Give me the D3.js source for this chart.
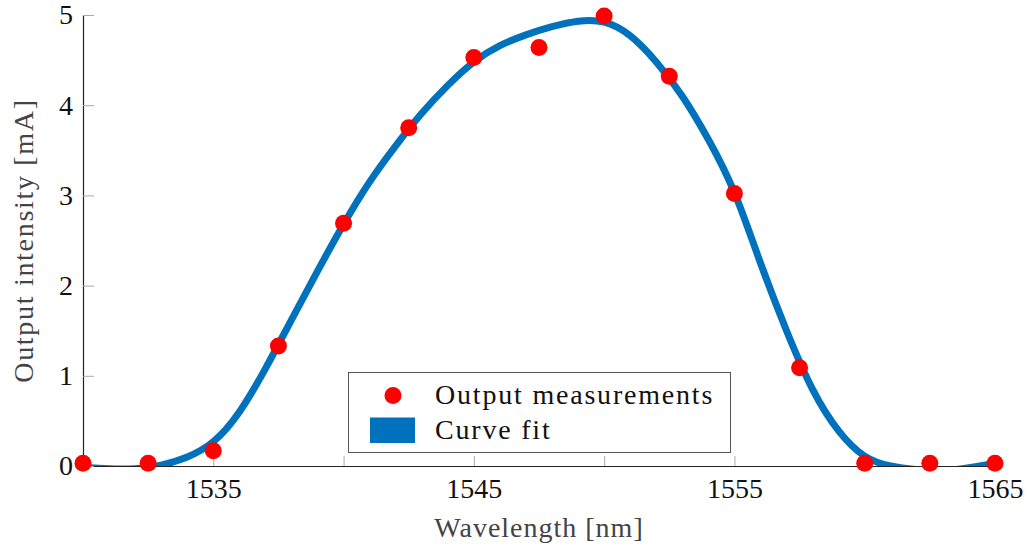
<!DOCTYPE html>
<html>
<head>
<meta charset="utf-8">
<script src="https://cdn.jsdelivr.net/npm/d3@7"></script>
<style>
  body { margin: 0; background: #fff; }
</style>
</head>
<body>
<div class="graph-main"></div>
<script>
// measurements (wavelength nm, intensity mA)
const measWl = [1530, 1532.5, 1535, 1537.5, 1540, 1542.5, 1545, 1547.5, 1550, 1552.5, 1555, 1557.5, 1560, 1562.5, 1565]
const measI = [0.03, 0.03, 0.17, 1.33, 2.69, 3.75, 4.53, 4.64, 4.99, 4.32, 3.02, 1.09, 0.03, 0.03, 0.03]

// curve fit
const fitWl = [1530, 1531, 1532, 1533, 1534, 1535, 1536, 1537, 1538, 1539, 1540, 1541, 1542, 1543, 1544, 1545, 1546, 1547,
  1548, 1549, 1550, 1551, 1552, 1553, 1554, 1555, 1556, 1557, 1558, 1559, 1560, 1561, 1562, 1563, 1564, 1565]
const fitI = [-0.01, -0.03, -0.03, 0.01, 0.10, 0.27, 0.60, 1.08, 1.62, 2.16, 2.68, 3.15, 3.55, 3.91, 4.22, 4.48, 4.66, 4.78,
  4.87, 4.93, 4.92, 4.77, 4.48, 4.10, 3.62, 3.03, 2.25, 1.50, 0.85, 0.39, 0.11, 0.0, -0.04, -0.05, -0.02, 0.03]

const xTicks = [1530, 1535, 1540, 1545, 1550, 1555, 1560, 1565]
const xTickLabels = [1535, 1545, 1555, 1565]
const yTicks = [0, 1, 2, 3, 4, 5]

const width = 1028
const height = 549
const mLeft = 83, mRight = 995, mTop = 15, mBottom = 466
const serif = '"Liberation Serif"'

const svg = d3.select(".graph-main")
  .append("svg")
  .attr("width", width)
  .attr("height", height)

const xScale = d3.scaleLinear().domain([1530, 1565]).range([mLeft, mRight])
const yScale = d3.scaleLinear().domain([0, 5]).range([mBottom, mTop])

// clip to plot area (curve dips below zero)
svg.append("clipPath").attr("id", "plot-clip")
  .append("rect")
  .attr("x", mLeft).attr("y", mTop - 10)
  .attr("width", mRight - mLeft + 10).attr("height", mBottom - mTop + 10)

// axes
const xAxis = d3.axisBottom(xScale)
  .tickValues(xTicks)
  .tickSizeInner(-10).tickSizeOuter(0).tickPadding(12)
  .tickFormat(d => xTickLabels.includes(d) ? d : "")
const gx = svg.append("g")
  .attr("transform", `translate(0,${mBottom})`)
  .call(xAxis)

const yAxis = d3.axisLeft(yScale)
  .tickValues(yTicks)
  .tickFormat(d3.format("d"))
  .tickSizeInner(-11).tickSizeOuter(0).tickPadding(10)
const gy = svg.append("g")
  .attr("transform", `translate(${mLeft},0)`)
  .call(yAxis)

for (const g of [gx, gy]) {
  g.select(".domain").attr("stroke", "#222").attr("stroke-width", 1.2)
  g.selectAll(".tick line").attr("stroke", "#aaa").attr("stroke-width", 1)
  g.selectAll(".tick text").attr("fill", "#111").style("font-size", "28px")
}

// curve fit
const line = d3.line()
  .x((d, i) => xScale(fitWl[i]))
  .y(d => yScale(d))
  .curve(d3.curveNatural)

svg.append("path")
  .datum(fitI)
  .attr("clip-path", "url(#plot-clip)")
  .attr("fill", "none")
  .attr("stroke", "#0072BD")
  .attr("stroke-width", 7)
  .attr("d", line)

// measurements
svg.selectAll("circle.meas")
  .data(measI)
  .enter()
  .append("circle")
  .attr("class", "meas")
  .attr("cx", (d, i) => xScale(measWl[i]))
  .attr("cy", d => yScale(d))
  .attr("r", 8.5)
  .attr("fill", "#ff0000")

// axis titles
svg.append("text")
  .attr("x", (mLeft + mRight) / 2)
  .attr("y", 537)
  .attr("text-anchor", "middle")
  .attr("fill", "#444")
  .style("font-size", "28px")
  .style("letter-spacing", "1px")
  .text("Wavelength [nm]")

svg.append("text")
  .attr("transform", `translate(33,${(mTop + mBottom) / 2}) rotate(-90)`)
  .attr("text-anchor", "middle")
  .attr("fill", "#444")
  .style("font-size", "28px")
  .style("letter-spacing", "1.7px")
  .text("Output intensity [mA]")

// legend
const legend = svg.append("g")
legend.append("rect")
  .attr("x", 348.5).attr("y", 372.5)
  .attr("width", 382).attr("height", 80)
  .attr("fill", "#fff")
  .attr("stroke", "#555").attr("stroke-width", 1)
legend.append("circle")
  .attr("cx", 393).attr("cy", 395.5).attr("r", 8.5)
  .attr("fill", "#ff0000")
legend.append("rect")
  .attr("x", 370).attr("y", 417.5).attr("width", 45).attr("height", 25.5)
  .attr("fill", "#0072BD")
legend.append("text")
  .attr("x", 435).attr("y", 404)
  .attr("fill", "#111")
  .style("font-size", "28px")
  .style("letter-spacing", "1.8px")
  .text("Output measurements")
legend.append("text")
  .attr("x", 435).attr("y", 439)
  .attr("fill", "#111")
  .style("font-size", "28px")
  .style("letter-spacing", "1.8px")
  .text("Curve fit")

// serif font on every label
svg.selectAll("text").style("font-family", serif)
svg.selectAll("g").attr("font-family", null)
</script>
</body>
</html>
